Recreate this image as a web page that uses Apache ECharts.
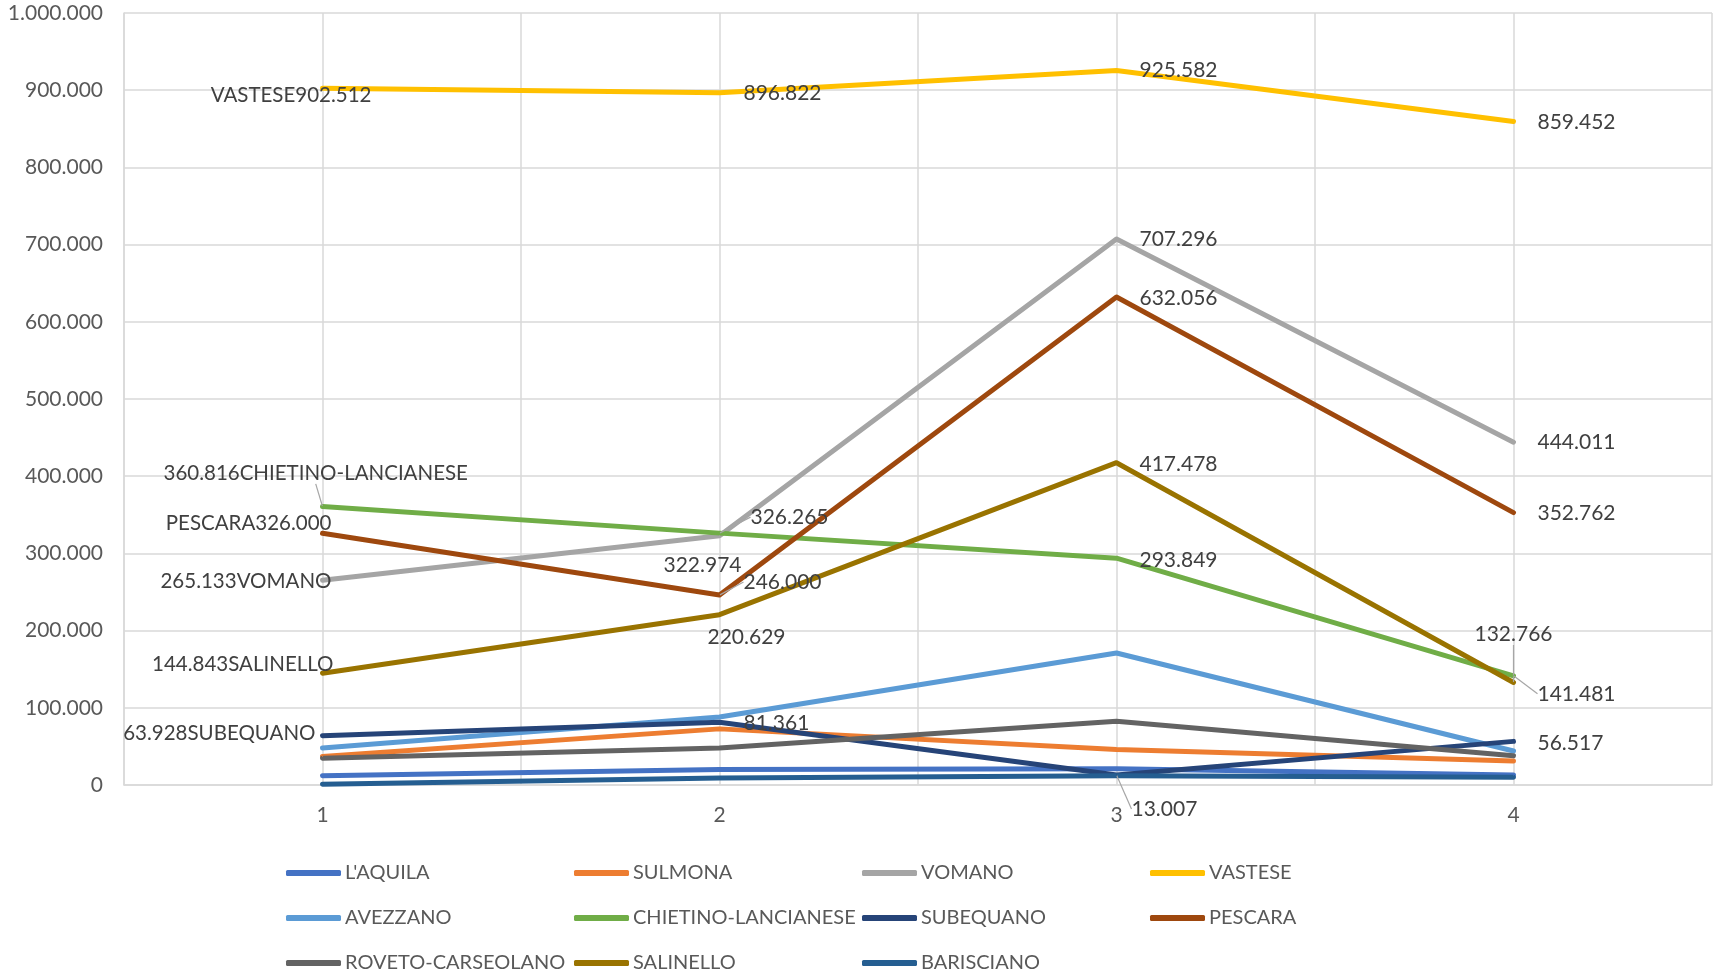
<!DOCTYPE html>
<html><head><meta charset="utf-8">
<script src="https://cdn.jsdelivr.net/npm/echarts@6/dist/echarts.min.js"></script>
<style>html,body{margin:0;padding:0;background:#fff}#c{width:1715px;height:976px}</style>
</head><body><div id="c"></div>
<script>
// ---- data ----
const categories = ['1', '2', '3', '4'];
const yTicks = [0, 100000, 200000, 300000, 400000, 500000, 600000, 700000, 800000, 900000, 1000000];
const laquila    = [12000, 20000, 21000, 13000];
const sulmona    = [37000, 72700, 46000, 31000];
const vomano     = [265133, 322974, 707296, 444011];
const vastese    = [902512, 896822, 925582, 859452];
const avezzano   = [48000, 88000, 171000, 44000];
const chietino   = [360816, 326265, 293849, 141481];
const subequano  = [63928, 81361, 13007, 56517];
const pescara    = [326000, 246000, 632056, 352762];
const roveto     = [34600, 48000, 82700, 38000];
const salinello  = [144843, 220629, 417478, 132766];
const barisciano = [1000, 9000, 12000, 10000];

const seriesDefs = [
  {name: "L'AQUILA", data: laquila, color: '#4472C4'},
  {name: 'SULMONA', data: sulmona, color: '#ED7D31'},
  {name: 'VOMANO', data: vomano, color: '#A5A5A5'},
  {name: 'VASTESE', data: vastese, color: '#FFC000'},
  {name: 'AVEZZANO', data: avezzano, color: '#5B9BD5'},
  {name: 'CHIETINO-LANCIANESE', data: chietino, color: '#70AD47'},
  {name: 'SUBEQUANO', data: subequano, color: '#264478'},
  {name: 'PESCARA', data: pescara, color: '#9E480E'},
  {name: 'ROVETO-CARSEOLANO', data: roveto, color: '#636363'},
  {name: 'SALINELLO', data: salinello, color: '#997300'},
  {name: 'BARISCIANO', data: barisciano, color: '#255E91'}
];

// label placement: [series, index, text kind, align, dx, dy, leader]
const labelSpecs = [
  ['VASTESE', 0, 'nv', 'right', 49, 7, false],
  ['VASTESE', 1, 'v', 'left', 24, 1, false],
  ['VASTESE', 2, 'v', 'left', 23, 0, false],
  ['VASTESE', 3, 'v', 'left', 24, 1, false],
  ['VOMANO', 0, 'vn', 'right', 9, 1, false],
  ['VOMANO', 1, 'v', 'center', -17, 30, false],
  ['VOMANO', 2, 'v', 'left', 23, 0, false],
  ['VOMANO', 3, 'v', 'left', 24, 0, false],
  ['CHIETINO-LANCIANESE', 0, 'vn', 'left', -159, -33, true],
  ['CHIETINO-LANCIANESE', 1, 'v', 'left', 31, -16, true],
  ['CHIETINO-LANCIANESE', 2, 'v', 'left', 23, 2, false],
  ['CHIETINO-LANCIANESE', 3, 'v', 'left', 24, 18, true],
  ['PESCARA', 0, 'nv', 'right', 9, -10, false],
  ['PESCARA', 1, 'v', 'left', 24, -13, true],
  ['PESCARA', 2, 'v', 'left', 23, 1, false],
  ['PESCARA', 3, 'v', 'left', 24, 1, false],
  ['SALINELLO', 0, 'vn', 'right', 11, -9, false],
  ['SALINELLO', 1, 'v', 'center', 27, 23, false],
  ['SALINELLO', 2, 'v', 'left', 23, 2, false],
  ['SALINELLO', 3, 'v', 'center', 0, -48, true],
  ['SUBEQUANO', 0, 'vn', 'right', -7, -2, false],
  ['SUBEQUANO', 1, 'v', 'left', 24, 1, false],
  ['SUBEQUANO', 2, 'v', 'left', 15, 34, true],
  ['SUBEQUANO', 3, 'v', 'left', 24, 2, false]
];

// ---- helpers ----
function fmt(v) {
  const s = String(Math.round(v));
  return s.replace(/\B(?=(\d{3})+(?!\d))/g, '.');
}
const FONT = 'Lato';
const FS = 21;

const series = seriesDefs.map(def => {
  const data = def.data.map((v, i) => {
    const spec = labelSpecs.find(s => s[0] === def.name && s[1] === i);
    if (!spec) return {value: v};
    const txt = spec[2] === 'v' ? fmt(v) : spec[2] === 'nv' ? def.name + fmt(v) : fmt(v) + def.name;
    const item = {
      value: v,
      label: {
        show: true, position: 'inside', align: spec[3], verticalAlign: 'middle',
        offset: [spec[4], spec[5]], formatter: txt,
        fontFamily: FONT, fontSize: spec[2] === 'v' ? FS : 20.5, color: '#404040'
      }
    };
    if (spec[6]) item.labelLine = {show: true, lineStyle: {color: '#a6a6a6', width: 1.2}};
    return item;
  });
  return {
    name: def.name, type: 'line', data: data, xAxisIndex: 0, yAxisIndex: 0,
    symbol: 'circle', symbolSize: 1, showSymbol: true,
    lineStyle: {width: 5, color: def.color, cap: 'round', join: 'round'},
    itemStyle: {color: def.color},
    emphasis: {disabled: true},
    animation: false, z: 3
  };
});

const legends = seriesDefs.map((def, i) => {
  const col = i % 4, row = Math.floor(i / 4);
  return {
    data: [def.name], left: 281 + col * 288, top: 858 + row * 45,
    icon: 'roundRect', itemWidth: 55, itemHeight: 6, itemGap: 0,
    selectedMode: false,
    textStyle: {fontFamily: FONT, fontSize: 20, color: '#595959', padding: [0, 0, 0, -1]}
  };
});

const chart = echarts.init(document.getElementById('c'), null, {renderer: 'canvas'});
chart.setOption({
  backgroundColor: '#ffffff',
  animation: false,
  grid: {left: 124, right: 3, top: 13, bottom: 191, containLabel: false},
  legend: legends,
  xAxis: [
    {
      type: 'category', data: categories, boundaryGap: true,
      axisLine: {show: true, lineStyle: {color: '#d9d9d9', width: 1.5}},
      axisTick: {show: false}, splitLine: {show: false},
      axisLabel: {fontFamily: FONT, fontSize: FS, color: '#595959', margin: 20}
    },
    {
      type: 'value', min: 0, max: 8, interval: 1, position: 'bottom',
      axisLine: {show: false}, axisTick: {show: false}, axisLabel: {show: false},
      splitLine: {show: true, lineStyle: {color: '#d9d9d9', width: 1.5}}
    }
  ],
  yAxis: {
    type: 'value', min: yTicks[0], max: yTicks[yTicks.length - 1], interval: yTicks[1] - yTicks[0],
    axisLine: {show: true, lineStyle: {color: '#d9d9d9', width: 1.5}},
    axisTick: {show: false},
    splitLine: {show: true, lineStyle: {color: '#d9d9d9', width: 1.5}},
    axisLabel: {fontFamily: FONT, fontSize: FS, color: '#595959', margin: 21,
      formatter: v => v === 0 ? '0' : fmt(v)}
  },
  series: series
});
</script>
</body></html>
